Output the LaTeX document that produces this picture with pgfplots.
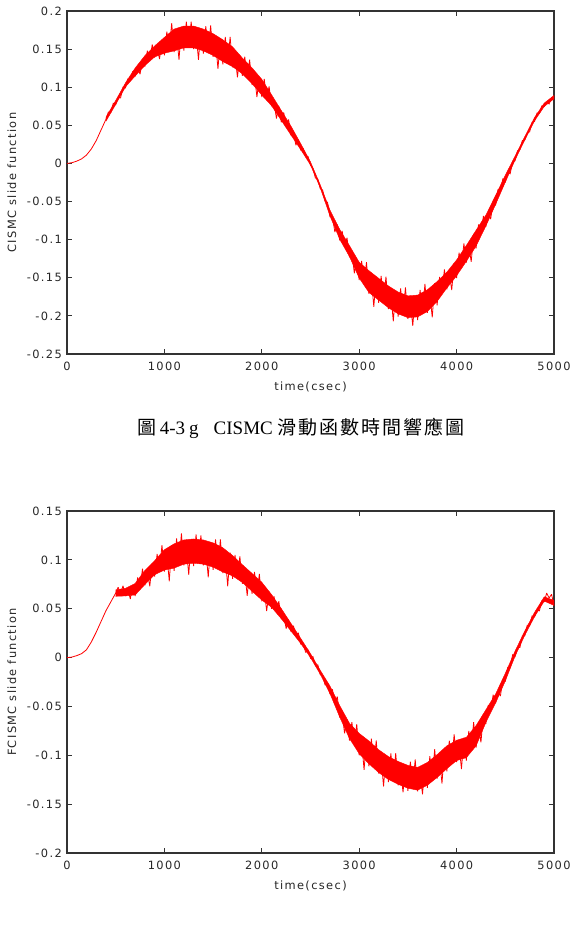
\documentclass[border=0pt]{standalone}
\usepackage{pgfplots}
\pgfplotsset{compat=1.18}
\usepackage{pgfplotstable}
\usepackage{fontspec}
\setmainfont{DejaVu Sans}
\newfontfamily\tickfont{DejaVu Sans}[LetterSpace=12]
\newfontfamily\capfont{Liberation Serif}
\newfontfamily\cjk{Noto Sans CJK TC}[LetterSpace=10]

% CISMC slide function, time in csec
\pgfplotstableread[row sep=\\]{
t v\\
0 0\\ 50 0.001\\ 100 0.003\\ 150 0.006\\ 200 0.011\\ 250 0.019\\ 300 0.030\\ 350 0.044\\ 400 0.058\\
425 0.0675\\ 450 0.067\\ 475 0.079\\ 500 0.077\\ 525 0.087\\ 550 0.086\\ 575 0.100\\ 600 0.099\\ 625 0.111\\ 650 0.1095\\ 675 0.121\\ 700 0.114\\
725 0.126\\ 750 0.117\\ 775 0.137\\ 800 0.127\\ 825 0.148\\ 850 0.136\\ 875 0.156\\ 900 0.139\\ 925 0.152\\ 950 0.137\\ 975 0.161\\ 1000 0.142\\
1025 0.173\\ 1050 0.150\\ 1075 0.184\\ 1100 0.146\\ 1125 0.169\\ 1150 0.136\\ 1175 0.179\\ 1200 0.148\\ 1225 0.186\\ 1250 0.156\\ 1275 0.186\\ 1300 0.150\\
1325 0.171\\ 1350 0.136\\ 1375 0.177\\ 1400 0.144\\ 1425 0.180\\ 1450 0.149\\ 1475 0.181\\ 1500 0.140\\ 1525 0.160\\ 1550 0.124\\ 1575 0.164\\ 1600 0.130\\
1625 0.166\\ 1650 0.134\\ 1675 0.166\\ 1700 0.126\\
1725 0.142\\ 1750 0.113\\ 1775 0.142\\ 1800 0.115\\ 1825 0.140\\ 1850 0.114\\ 1875 0.136\\ 1900 0.103\\ 1925 0.116\\ 1950 0.087\\ 1975 0.114\\ 2000 0.087\\
2025 0.111\\ 2050 0.085\\ 2075 0.101\\ 2100 0.075\\
2125 0.081\\ 2150 0.059\\ 2175 0.075\\ 2200 0.054\\ 2225 0.067\\ 2250 0.0485\\ 2275 0.0576\\ 2300 0.0366\\ 2325 0.040\\ 2350 0.024\\ 2375 0.031\\ 2400 0.0175\\
2425 0.0195\\ 2450 0.0095\\ 2475 0.009\\ 2500 -0.0024\\ 2525 -0.0065\\ 2550 -0.019\\ 2575 -0.0205\\ 2600 -0.033\\ 2625 -0.035\\ 2650 -0.0495\\ 2675 -0.051\\ 2700 -0.070\\
2725 -0.0696\\ 2750 -0.090\\ 2775 -0.080\\ 2800 -0.101\\ 2825 -0.0885\\ 2850 -0.109\\ 2875 -0.0975\\ 2900 -0.123\\ 2925 -0.117\\ 2950 -0.144\\ 2975 -0.126\\ 3000 -0.153\\
3025 -0.128\\ 3050 -0.1565\\ 3075 -0.1294\\ 3100 -0.171\\ 3125 -0.1515\\ 3150 -0.188\\ 3175 -0.1485\\ 3200 -0.183\\ 3225 -0.1475\\ 3250 -0.180\\ 3275 -0.1485\\ 3300 -0.191\\
3325 -0.171\\ 3350 -0.207\\ 3375 -0.167\\ 3400 -0.201\\ 3425 -0.164\\ 3450 -0.195\\ 3475 -0.1625\\ 3500 -0.204\\ 3525 -0.1815\\ 3550 -0.213\\ 3575 -0.1735\\ 3600 -0.2055\\
3625 -0.166\\ 3650 -0.1945\\ 3675 -0.158\\ 3700 -0.196\\ 3725 -0.171\\ 3750 -0.202\\ 3775 -0.157\\ 3800 -0.186\\
3825 -0.149\\ 3850 -0.168\\ 3875 -0.139\\ 3900 -0.165\\ 3925 -0.1445\\ 3950 -0.166\\ 3975 -0.1305\\ 4000 -0.1505\\ 4025 -0.117\\ 4050 -0.135\\ 4075 -0.105\\ 4100 -0.130\\
4125 -0.1085\\ 4150 -0.129\\ 4175 -0.0925\\ 4200 -0.1115\\ 4225 -0.080\\ 4250 -0.0925\\ 4275 -0.069\\ 4300 -0.083\\
4325 -0.0656\\ 4350 -0.073\\ 4375 -0.0494\\ 4400 -0.055\\ 4425 -0.034\\ 4450 -0.0375\\ 4475 -0.0198\\ 4500 -0.0248\\ 4525 -0.0115\\ 4550 -0.0135\\ 4575 0.0028\\ 4600 0.0034\\
4625 0.0165\\ 4650 0.0185\\ 4675 0.030\\ 4700 0.0306\\ 4725 0.040\\ 4750 0.0415\\ 4775 0.054\\ 4800 0.055\\ 4825 0.066\\ 4850 0.066\\ 4875 0.0756\\ 4900 0.0746\\
4925 0.0805\\ 4950 0.078\\ 4975 0.0865\\ 5000 0.084\\
}\cismc

% dense core of the chattering band: upper edge forward, lower edge back
\pgfplotstableread[row sep=\\]{
t v\\
400 0.0606\\ 500 0.0826\\ 600 0.1056\\ 700 0.1252\\ 800 0.1415\\ 900 0.1542\\ 1000 0.1654\\ 1100 0.1763\\ 1200 0.1803\\ 1300 0.1803\\
1400 0.1763\\ 1500 0.1703\\ 1600 0.1623\\ 1700 0.153\\ 1800 0.1384\\ 1900 0.1254\\ 2000 0.1104\\ 2100 0.0902\\ 2200 0.0695\\ 2300 0.0489\\
2400 0.0259\\ 2500 0.002\\ 2600 -0.028\\ 2700 -0.0611\\ 2800 -0.0865\\ 2900 -0.1078\\ 3000 -0.1296\\ 3100 -0.1407\\ 3200 -0.1507\\ 3300 -0.1607\\
3400 -0.1687\\ 3500 -0.1737\\ 3600 -0.1727\\ 3700 -0.1657\\ 3800 -0.155\\ 3900 -0.1426\\ 4000 -0.1266\\ 4100 -0.1076\\ 4200 -0.0876\\ 4300 -0.0678\\
4400 -0.0421\\ 4500 -0.0154\\ 4600 0.0096\\ 4700 0.0352\\ 4800 0.0602\\ 4900 0.0792\\ 5000 0.0892\\
5000 0.0848\\ 4900 0.0748\\ 4800 0.0558\\ 4700 0.0308\\ 4600 0.0044\\ 4500 -0.0246\\ 4400 -0.0539\\ 4300 -0.0822\\ 4200 -0.1084\\ 4100 -0.1284\\
4000 -0.1474\\ 3900 -0.1634\\ 3800 -0.181\\ 3700 -0.1943\\ 3600 -0.2013\\ 3500 -0.2023\\ 3400 -0.1973\\ 3300 -0.1893\\ 3200 -0.1793\\ 3100 -0.1693\\
3000 -0.1504\\ 2900 -0.1222\\ 2800 -0.0995\\ 2700 -0.0689\\ 2600 -0.032\\ 2500 -0.002\\ 2400 0.0181\\ 2300 0.0371\\ 2200 0.0565\\ 2100 0.0758\\
2000 0.0896\\ 1900 0.1046\\ 1800 0.1176\\ 1700 0.127\\ 1600 0.1337\\ 1500 0.1417\\ 1400 0.1477\\ 1300 0.1517\\ 1200 0.1517\\ 1100 0.1477\\
1000 0.1446\\ 900 0.1398\\ 800 0.1285\\ 700 0.1148\\ 600 0.1004\\ 500 0.0774\\ 400 0.0554\\
}\cismcband

% FCISMC slide function, time in csec
\pgfplotstableread[row sep=\\]{
t v\\
0 0\\ 50 0.0005\\ 100 0.002\\ 150 0.004\\ 200 0.008\\ 250 0.016\\ 300 0.026\\ 350 0.037\\ 400 0.048\\ 450 0.057\\ 500 0.066\\
525 0.072\\ 550 0.0655\\ 575 0.0735\\ 600 0.063\\ 625 0.0695\\ 650 0.060\\ 675 0.074\\ 700 0.063\\
725 0.082\\ 750 0.071\\ 775 0.091\\ 800 0.074\\ 825 0.0875\\ 850 0.073\\ 875 0.0965\\ 900 0.083\\ 925 0.106\\ 950 0.0895\\ 975 0.115\\ 1000 0.088\\
1025 0.106\\ 1050 0.078\\ 1075 0.115\\ 1100 0.0887\\ 1125 0.122\\ 1150 0.0975\\ 1175 0.127\\ 1200 0.0944\\ 1225 0.113\\ 1250 0.0847\\ 1275 0.121\\ 1300 0.0937\\
1325 0.126\\ 1350 0.100\\ 1375 0.125\\ 1400 0.0944\\ 1425 0.112\\ 1450 0.082\\ 1475 0.117\\ 1500 0.0897\\ 1525 0.121\\ 1550 0.094\\ 1575 0.121\\ 1600 0.0864\\
1625 0.1036\\ 1650 0.073\\ 1675 0.1074\\ 1700 0.0805\\
1725 0.105\\ 1750 0.0835\\ 1775 0.1036\\ 1800 0.0756\\ 1825 0.0876\\ 1850 0.0633\\ 1875 0.0881\\ 1900 0.0653\\ 1925 0.0877\\ 1950 0.066\\ 1975 0.0856\\ 2000 0.0576\\
2025 0.0691\\ 2050 0.0476\\ 2075 0.0675\\ 2100 0.0499\\
2125 0.0628\\ 2150 0.0475\\ 2175 0.0576\\ 2200 0.0394\\ 2225 0.0436\\ 2250 0.0296\\ 2275 0.0387\\ 2300 0.0265\\ 2325 0.0325\\ 2350 0.022\\ 2375 0.0253\\ 2400 0.0138\\
2425 0.0142\\ 2450 0.0053\\ 2475 0.0081\\ 2500 -0.0007\\ 2525 0.001\\ 2550 -0.008\\ 2575 -0.0074\\ 2600 -0.0174\\ 2625 -0.0186\\ 2650 -0.0282\\ 2675 -0.0257\\ 2700 -0.0375\\
2725 -0.0325\\ 2750 -0.0475\\ 2775 -0.0399\\ 2800 -0.0614\\ 2825 -0.0576\\ 2850 -0.0776\\ 2875 -0.063\\ 2900 -0.0849\\ 2925 -0.066\\ 2950 -0.088\\ 2975 -0.0682\\ 3000 -0.100\\
3025 -0.0852\\ 3050 -0.1149\\ 3075 -0.0838\\ 3100 -0.1114\\ 3125 -0.083\\ 3150 -0.1095\\ 3175 -0.0848\\ 3200 -0.1188\\ 3225 -0.1032\\ 3250 -0.1319\\ 3275 -0.0998\\ 3300 -0.1274\\
3325 -0.098\\ 3350 -0.1235\\ 3375 -0.0978\\ 3400 -0.1308\\ 3425 -0.1142\\ 3450 -0.138\\ 3475 -0.1098\\ 3500 -0.1364\\ 3525 -0.1065\\ 3550 -0.131\\ 3575 -0.1043\\ 3600 -0.1368\\
3625 -0.1182\\ 3650 -0.140\\ 3675 -0.1088\\ 3700 -0.1334\\ 3725 -0.101\\ 3750 -0.123\\ 3775 -0.0938\\ 3800 -0.1238\\ 3825 -0.1042\\ 3850 -0.1289\\ 3875 -0.0928\\ 3900 -0.1164\\
3925 -0.085\\ 3950 -0.106\\ 3975 -0.0785\\ 4000 -0.107\\ 4025 -0.0895\\ 4050 -0.114\\ 4075 -0.082\\ 4100 -0.1055\\ 4125 -0.075\\ 4150 -0.0945\\ 4175 -0.066\\ 4200 -0.092\\
4225 -0.0711\\ 4250 -0.0868\\ 4275 -0.058\\ 4300 -0.0681\\
4325 -0.0485\\ 4350 -0.0545\\ 4375 -0.0381\\ 4400 -0.0468\\ 4425 -0.0347\\ 4450 -0.0394\\ 4475 -0.022\\ 4500 -0.0245\\ 4525 -0.010\\ 4550 -0.010\\ 4575 0.0028\\ 4600 0.0008\\
4625 0.0102\\ 4650 0.0103\\ 4675 0.0221\\ 4700 0.0223\\ 4725 0.033\\ 4750 0.033\\ 4775 0.0426\\ 4800 0.0416\\ 4825 0.0489\\ 4850 0.0478\\ 4875 0.0581\\ 4900 0.0573\\
4925 0.066\\ 4950 0.061\\ 4975 0.0648\\ 5000 0.0528\\
}\fcismc

\pgfplotstableread[row sep=\\]{
t v\\
500 0.0693\\ 600 0.0709\\ 700 0.0759\\ 800 0.0892\\ 900 0.0992\\ 1000 0.1104\\ 1100 0.1164\\ 1200 0.1204\\ 1300 0.1214\\ 1400 0.1204\\
1500 0.1174\\ 1600 0.1124\\ 1700 0.1044\\ 1800 0.0951\\ 1900 0.0861\\ 2000 0.0771\\ 2100 0.0645\\ 2200 0.0502\\ 2300 0.0349\\ 2400 0.0196\\
2500 0.004\\ 2600 -0.013\\ 2700 -0.0291\\ 2800 -0.0491\\ 2900 -0.0672\\ 3000 -0.0776\\ 3100 -0.0853\\ 3200 -0.0943\\ 3300 -0.1013\\ 3400 -0.1063\\
3500 -0.1103\\ 3600 -0.1123\\ 3700 -0.1073\\ 3800 -0.0993\\ 3900 -0.0903\\ 4000 -0.0846\\ 4100 -0.0816\\ 4200 -0.0696\\ 4300 -0.0535\\ 4400 -0.0374\\
4500 -0.0161\\ 4600 0.0066\\ 4700 0.0272\\ 4800 0.0462\\ 4900 0.0622\\ 5000 0.0586\\
5000 0.0534\\ 4900 0.0578\\ 4800 0.0418\\ 4700 0.0228\\ 4600 0.0014\\ 4500 -0.0239\\ 4400 -0.0466\\ 4300 -0.0665\\ 4200 -0.0904\\ 4100 -0.1024\\
4000 -0.1054\\ 3900 -0.1137\\ 3800 -0.1227\\ 3700 -0.1307\\ 3600 -0.1357\\ 3500 -0.1337\\ 3400 -0.1297\\ 3300 -0.1247\\ 3200 -0.1177\\ 3100 -0.1087\\
3000 -0.0984\\ 2900 -0.0828\\ 2800 -0.0609\\ 2700 -0.0369\\ 2600 -0.017\\ 2500 0.0\\ 2400 0.0144\\ 2300 0.0271\\ 2200 0.0398\\ 2100 0.0515\\
2000 0.0589\\ 1900 0.0679\\ 1800 0.0769\\ 1700 0.0836\\ 1600 0.0876\\ 1500 0.0926\\ 1400 0.0956\\ 1300 0.0966\\ 1200 0.0956\\ 1100 0.0916\\
1000 0.0896\\ 900 0.0848\\ 800 0.0748\\ 700 0.0641\\ 600 0.0631\\ 500 0.0627\\
}\fcismcband

\pgfplotsset{
  slideaxis/.style={
    scale only axis,
    anchor=south west,
    width=487pt,
    xmin=0, xmax=5000,
    xtick={0,1000,2000,3000,4000,5000},
    xticklabels={0,1000,2000,3000,4000,5000},
    scaled x ticks=false,
    tick align=inside,
    major tick length=5pt,
    axis line style={black!80, line width=1.1pt},
    tick style={black!80, line width=0.8pt},
    ticklabel style={font=\tickfont\fontsize{11.4}{13}\selectfont, text=black!85},
    xticklabel style={inner sep=0pt, yshift=-8pt},
    yticklabel style={inner sep=0pt, xshift=-5pt},
    label style={font=\tickfont\fontsize{11.4}{13}\selectfont, text=black!85},
    xlabel style={at={(axis description cs:0.5,-0.096)}, anchor=center},
    ylabel style={at={(axis description cs:-0.113,0.5)}, anchor=center},
    xlabel={time(csec)},
  },
  slideline/.style={red, line width=0.8pt, line join=miter, miter limit=2},
  slideband/.style={fill=red, draw=red, line width=0.4pt},
}

\begin{document}
\begin{tikzpicture}
\begin{axis}[slideaxis,
  at={(67pt,-354pt)},
  height=343pt,
  ymin=-0.25, ymax=0.2,
  ytick={-0.25,-0.2,-0.15,-0.1,-0.05,0,0.05,0.1,0.15,0.2},
  yticklabels={-0.25,-0.2,-0.15,-0.1,-0.05,0,0.05,0.1,0.15,0.2},
  ylabel={CISMC slide function}]
  \addplot[slideband] table[x=t, y=v] {\cismcband};
  \addplot[slideline] table[x=t, y=v] {\cismc};
\end{axis}

\node[font=\capfont\fontsize{19}{22}\selectfont, anchor=center] at (301pt,-428pt)
  {{\cjk 圖}\hspace{3pt}4-3\hspace{4pt}g\hspace{15pt}CISMC\hspace{5pt}{\cjk 滑動函數時間響應圖}};

\begin{axis}[slideaxis,
  at={(67pt,-853pt)},
  height=342pt,
  ymin=-0.2, ymax=0.15,
  ytick={-0.2,-0.15,-0.1,-0.05,0,0.05,0.1,0.15},
  yticklabels={-0.2,-0.15,-0.1,-0.05,0,0.05,0.1,0.15},
  ylabel={FCISMC slide function}]
  \addplot[slideband] table[x=t, y=v] {\fcismcband};
  \addplot[slideline] table[x=t, y=v] {\fcismc};
\end{axis}

\path[use as bounding box] (0,0) rectangle (575pt,-930pt);
\end{tikzpicture}
\end{document}
